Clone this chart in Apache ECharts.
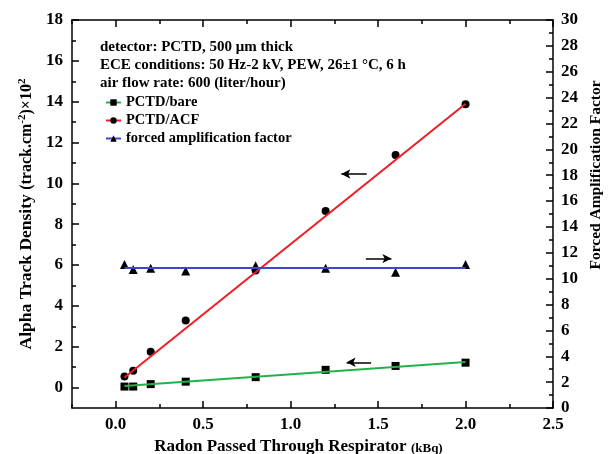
<!DOCTYPE html>
<html>
<head>
<meta charset="utf-8">
<script src="https://cdn.jsdelivr.net/npm/echarts@6/dist/echarts.min.js"></script>
<style>
html,body{margin:0;padding:0;background:#fff}
#main{width:609px;height:454px}
</style>
</head>
<body>
<div id="main"></div>
<script>
// radon passed (kBq)
var xVals = [0.05, 0.1, 0.2, 0.4, 0.8, 1.2, 1.6, 2.0];
// track density x10^2
var bare = [0.05, 0.05, 0.17, 0.29, 0.51, 0.87, 1.06, 1.22];
var acf = [0.54, 0.82, 1.76, 3.28, 5.73, 8.65, 11.39, 13.87];
// forced amplification factor (right axis)
var faf = [11.1, 10.7, 10.8, 10.6, 11.0, 10.8, 10.5, 11.1];
// fitted lines, start and end points
var bareFit = [[0.05, 0.08], [2.0, 1.25]];
var acfFit = [[0.05, 0.49], [2.0, 13.9]];
var fafFit = [[0.05, 10.85], [2.0, 10.85]];
// arrows, head first
var bareArrow = [[1.32, 1.24], [1.46, 1.24]];
var acfArrow = [[1.29, 10.46], [1.435, 10.46]];
var fafArrow = [[1.576, 11.55], [1.43, 11.55]];
// ticks
var xTicks = [0, 0.5, 1.0, 1.5, 2.0, 2.5];
var xMinor = [-0.25, 0.25, 0.75, 1.25, 1.75, 2.25];
var yTicks = [0, 2, 4, 6, 8, 10, 12, 14, 16, 18];
var yMinor = [1, 3, 5, 7, 9, 11, 13, 15, 17];

var FONT = '"Liberation Serif", "Times New Roman", serif';
var BLACK = '#000';

function pairs(xs, ys) {
	var out = [];
	for (var i = 0; i < xs.length; i++) {
		out.push([xs[i], ys[i]]);
	}
	return out;
}

function fitLine(p, color) {
	return [{coord: p[0], symbol: 'none', lineStyle: {color: color, width: 2, type: 'solid'}},
		{coord: p[1], symbol: 'none'}];
}

function arrow(p) {
	return [{coord: p[0], symbol: 'arrow', symbolSize: [7, 9], lineStyle: {color: BLACK, width: 1.5, type: 'solid'}},
		{coord: p[1], symbol: 'none'}];
}

var lineStyleAx = {color: BLACK, width: 1.5};
var labelStyle = {color: BLACK, fontFamily: FONT, fontWeight: 'bold', fontSize: 17};

function xAxis(pos, values, len, showLine, showLabel) {
	return {
		type: 'value', min: -0.25, max: 2.5, position: pos,
		axisLine: {show: showLine, onZero: false, lineStyle: lineStyleAx},
		axisTick: {show: true, inside: true, length: len, customValues: values, lineStyle: lineStyleAx},
		axisLabel: showLabel ? Object.assign({customValues: values, margin: 8,
			formatter: function (v) { return v.toFixed(1); }}, labelStyle) : {show: false},
		splitLine: {show: false}
	};
}

var bottomX = xAxis('bottom', xTicks, 7, true, true);
bottomX.name = '{a|Radon Passed Through Respirator }{b|(kBq)}';
bottomX.nameLocation = 'middle';
bottomX.nameGap = 30.5;
bottomX.nameTextStyle = {padding: [0, 28, 0, 0], rich: {
	a: {fontFamily: FONT, fontWeight: 'bold', fontSize: 17, color: BLACK, verticalAlign: 'bottom'},
	b: {fontFamily: FONT, fontWeight: 'bold', fontSize: 13, color: BLACK, verticalAlign: 'bottom'}
}};

var myChart = echarts.init(document.getElementById('main'));

var option = {
	animation: false,
	backgroundColor: '#fff',
	grid: {left: 72, right: 56, top: 20, bottom: 46, containLabel: false, outerBoundsMode: 'none'},
	legend: {
		orient: 'vertical', left: 100, top: 90,
		itemWidth: 15, itemHeight: 8, itemGap: 3,
		textStyle: {fontFamily: FONT, fontWeight: 'bold', fontSize: 14.5, color: BLACK, lineHeight: 15},
		data: [
			{name: 'PCTD/bare', lineStyle: {opacity: 1, width: 2}},
			{name: 'PCTD/ACF', lineStyle: {opacity: 1, width: 2}},
			{name: 'forced amplification factor', lineStyle: {opacity: 1, width: 2}}
		]
	},
	xAxis: [
		bottomX,
		xAxis('bottom', xMinor, 4, false, false),
		xAxis('top', xTicks, 7, true, false),
		xAxis('top', xMinor, 4, false, false)
	],
	yAxis: [
		{
			type: 'value', min: -1, max: 18, position: 'left',
			axisLine: {show: true, onZero: false, lineStyle: lineStyleAx},
			axisTick: {inside: true, length: 7, customValues: yTicks, lineStyle: lineStyleAx},
			axisLabel: Object.assign({customValues: yTicks, margin: 9}, labelStyle),
			splitLine: {show: false},
			name: '{a|Alpha Track Density }{b|(track.cm}{s|-2}{b|)×10}{s|2}',
			nameLocation: 'middle',
			nameGap: 36,
			nameTextStyle: {rich: {
				a: {fontFamily: FONT, fontWeight: 'bold', fontSize: 17.5, color: BLACK, verticalAlign: 'bottom'},
				b: {fontFamily: FONT, fontWeight: 'bold', fontSize: 16, color: BLACK, verticalAlign: 'bottom'},
				s: {fontFamily: FONT, fontWeight: 'bold', fontSize: 11, color: BLACK, verticalAlign: 'top'}
			}}
		},
		{
			type: 'value', min: 0, max: 30, interval: 2, position: 'right',
			axisLine: {show: true, onZero: false, lineStyle: lineStyleAx},
			axisTick: {inside: true, length: 7, lineStyle: lineStyleAx},
			minorTick: {show: true, splitNumber: 2, length: 4, lineStyle: lineStyleAx},
			axisLabel: Object.assign({margin: 8}, labelStyle),
			splitLine: {show: false}
		},
		{
			type: 'value', min: -1, max: 18, position: 'left',
			axisLine: {show: false, onZero: false},
			axisTick: {inside: true, length: 4, customValues: yMinor, lineStyle: lineStyleAx},
			axisLabel: {show: false},
			splitLine: {show: false}
		}
	],
	graphic: [
		{
			type: 'text', left: 100, top: 38,
			style: {
				text: 'detector: PCTD, 500 μm thick\nECE conditions: 50 Hz-2 kV, PEW, 26±1 °C, 6 h\nair flow rate: 600 (liter/hour)',
				font: 'bold 15px ' + FONT, fill: BLACK, lineHeight: 18
			}
		},
		{
			type: 'text', x: 596, y: 175, rotation: Math.PI / 2,
			style: {
				text: 'Forced Amplification Factor',
				font: 'bold 15.5px ' + FONT, fill: BLACK, align: 'center', verticalAlign: 'middle'
			}
		}
	],
	series: [
		{
			name: 'PCTD/bare', type: 'line', xAxisIndex: 0, yAxisIndex: 0,
			data: pairs(xVals, bare),
			symbol: 'rect', symbolSize: 8,
			itemStyle: {color: BLACK},
			lineStyle: {color: '#22b24c', opacity: 0},
			markLine: {silent: true, animation: false, label: {show: false}, symbol: 'none',
				data: [fitLine(bareFit, '#22b24c'), arrow(bareArrow)]}
		},
		{
			name: 'PCTD/ACF', type: 'line', xAxisIndex: 0, yAxisIndex: 0,
			data: pairs(xVals, acf),
			symbol: 'circle', symbolSize: 8,
			itemStyle: {color: BLACK},
			lineStyle: {color: '#ee1c24', opacity: 0},
			markLine: {silent: true, animation: false, label: {show: false}, symbol: 'none',
				data: [fitLine(acfFit, '#ee1c24'), arrow(acfArrow)]}
		},
		{
			name: 'forced amplification factor', type: 'line', xAxisIndex: 0, yAxisIndex: 1,
			data: pairs(xVals, faf),
			symbol: 'triangle', symbolSize: 9,
			itemStyle: {color: BLACK},
			lineStyle: {color: '#3f48cc', opacity: 0},
			markLine: {silent: true, animation: false, label: {show: false}, symbol: 'none',
				data: [fitLine(fafFit, '#3f48cc'), arrow(fafArrow)]}
		}
	]
};

myChart.setOption(option);
</script>
</body>
</html>
